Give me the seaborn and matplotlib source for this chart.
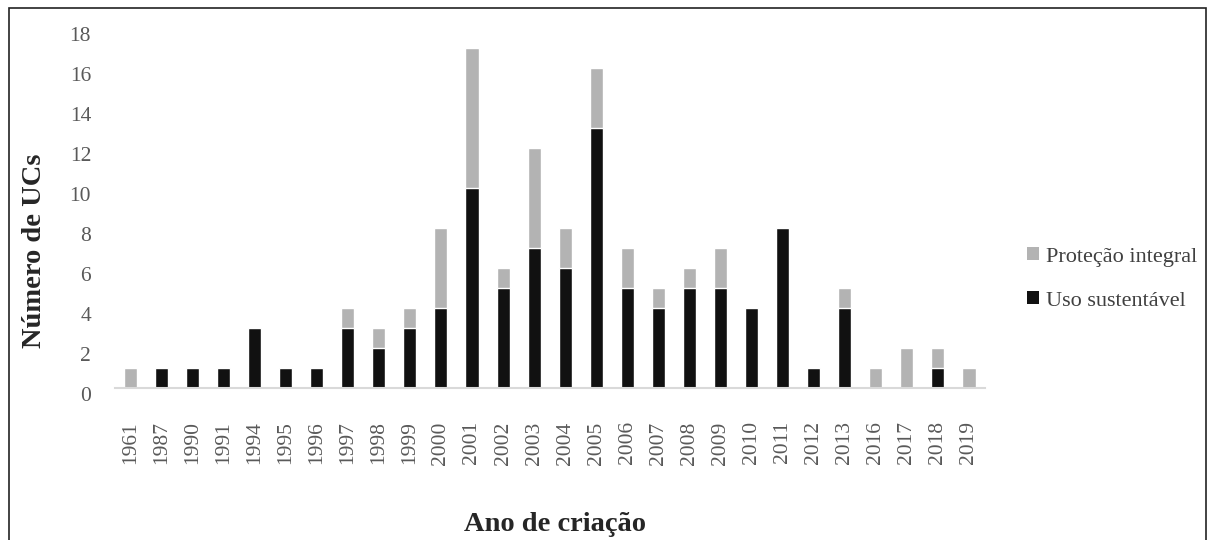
import pandas as pd
import seaborn as sns
import matplotlib.pyplot as plt
from matplotlib.patches import Patch, Rectangle
from matplotlib.transforms import ScaledTranslation

years = ["1961", "1987", "1990", "1991", "1994", "1995", "1996", "1997", "1998", "1999",
         "2000", "2001", "2002", "2003", "2004", "2005", "2006", "2007", "2008", "2009",
         "2010", "2011", "2012", "2013", "2016", "2017", "2018", "2019"]
uso_sustentavel = [0, 1, 1, 1, 3, 1, 1, 3, 2, 3,
                   4, 10, 5, 7, 6, 13, 5, 4, 5, 5,
                   4, 8, 1, 4, 0, 0, 1, 0]
protecao_integral = [1, 0, 0, 0, 0, 0, 0, 1, 1, 1,
                     4, 7, 1, 5, 2, 3, 2, 1, 1, 2,
                     0, 0, 0, 1, 1, 2, 1, 1]
y_ticks = [0, 2, 4, 6, 8, 10, 12, 14, 16, 18]

df = pd.DataFrame({"ano": years, "uso": uso_sustentavel, "prot": protecao_integral})
df["total"] = df["uso"] + df["prot"]

GRAY = "#b3b3b3"
BLACK = "#111111"
TICK_COL = "#595959"

sns.set_style("white")
plt.rcParams["font.family"] = ["Liberation Serif", "DejaVu Serif"]

fig = plt.figure(figsize=(12.08, 5.4), dpi=100)
ax = fig.add_axes([0.095, 0.2815, 0.72, 0.667])

# stacked bars: total in gray, then the black part on top of it
sns.barplot(data=df, x="ano", y="total", order=years, color=GRAY, width=0.42,
            saturation=1, ax=ax)
sns.barplot(data=df, x="ano", y="uso", order=years, color=BLACK, width=0.42,
            saturation=1, ax=ax)

ax.set_ylim(0, 18)
ax.set_xlim(-0.5, len(years) - 0.5)
ax.set_yticks(y_ticks)
ax.set_yticklabels([str(t) for t in y_ticks], fontsize=15.5, color=TICK_COL)
ax.set_xticks(range(len(years)))
ax.set_xticklabels(years, rotation=90, fontsize=15.5, color=TICK_COL)
ax.tick_params(axis="both", length=0)
ax.tick_params(axis="x", pad=24)
ax.tick_params(axis="y", pad=17)

# y tick labels sit a bit below their value in the original
off = ScaledTranslation(0, -0.06, fig.dpi_scale_trans)
for lab in ax.get_yticklabels():
    lab.set_transform(lab.get_transform() + off)

for side in ["top", "right", "left"]:
    ax.spines[side].set_visible(False)
ax.spines["bottom"].set_color("#d9d9d9")
ax.spines["bottom"].set_linewidth(1.5)

ax.set_ylabel("Número de UCs", fontsize=20.5, fontweight="bold")
ax.yaxis.set_label_coords(-0.078, 0.38)
ax.set_xlabel("Ano de criação", fontsize=20.5, fontweight="bold")
ax.xaxis.set_label_coords(0.506, -0.345)

handles = [Patch(facecolor=GRAY, edgecolor="none"), Patch(facecolor=BLACK, edgecolor="none")]
fig.legend(handles, ["Proteção integral", "Uso sustentável"], loc="upper left",
           bbox_to_anchor=(0.841, 0.563), frameon=False, fontsize=16, borderpad=0,
           handlelength=0.55, handleheight=0.55, handletextpad=0.3, labelspacing=1.1,
           labelcolor="#404040")

# outer frame around the figure
fig.patches.append(Rectangle((0.0075, -0.01), 0.9905, 0.995, transform=fig.transFigure,
                             fill=False, edgecolor="#222222", linewidth=1.2))

fig.savefig("out.png", dpi=100)
